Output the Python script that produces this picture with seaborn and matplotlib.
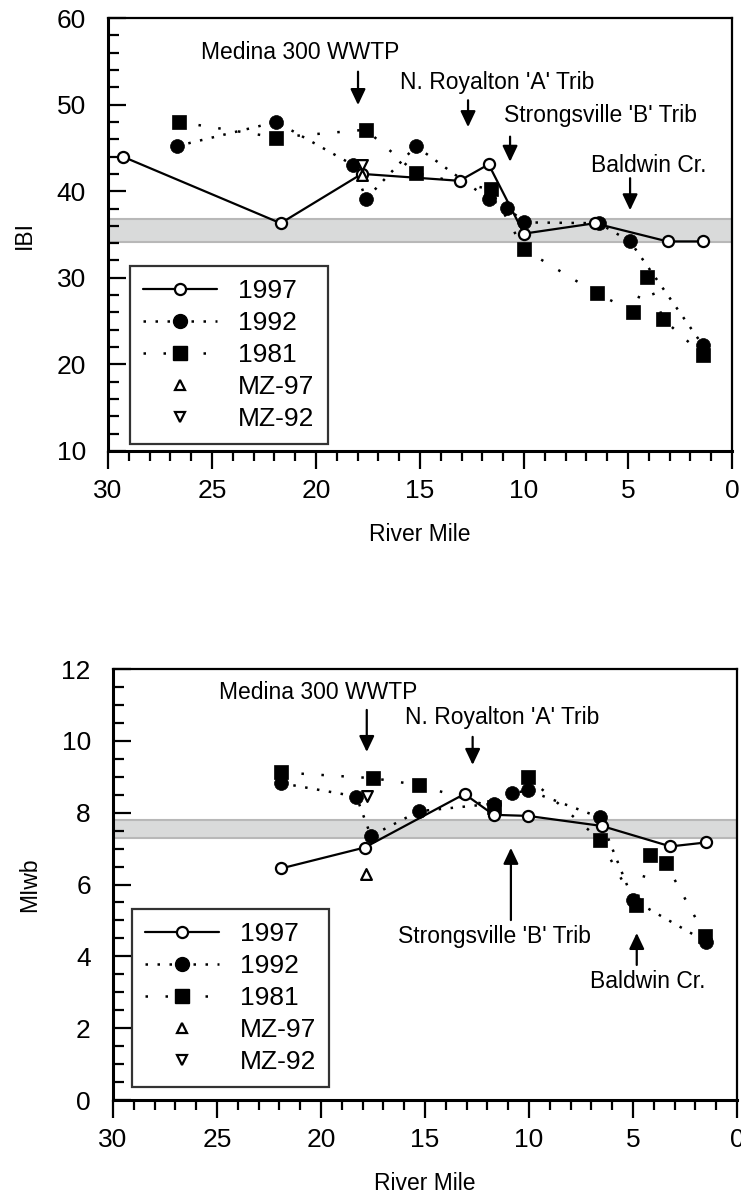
import matplotlib
matplotlib.use("Agg")
import matplotlib.pyplot as plt
from matplotlib.lines import Line2D
from matplotlib.ticker import MultipleLocator
import seaborn as sns
import numpy as np

sns.set_theme(style="ticks")
plt.rcParams['font.family'] = ['Liberation Sans', 'DejaVu Sans']
plt.rcParams.update({"text.color": "black", "axes.labelcolor": "black",
                     "xtick.color": "black", "ytick.color": "black"})

# ---------------- data: IBI (top) ----------------
ibi_rm97 = [29.3, 21.7, 17.8, 13.1, 11.7, 10.0, 6.6, 3.1, 1.4]
ibi_97 = [44.0, 36.3, 42.0, 41.2, 43.1, 35.1, 36.3, 34.2, 34.2]
ibi_rm92 = [26.7, 21.9, 18.2, 17.6, 15.2, 11.7, 10.8, 10.0, 6.4, 4.9, 1.4]
ibi_92 = [45.2, 48.0, 43.0, 39.1, 45.2, 39.1, 38.1, 36.4, 36.3, 34.2, 22.2]
ibi_rm81 = [26.6, 21.9, 17.6, 15.2, 11.6, 10.0, 6.5, 4.75, 4.1, 3.3, 1.4]
ibi_81 = [48.0, 46.2, 47.1, 42.1, 40.2, 33.3, 28.2, 26.1, 30.1, 25.2, 21.1]
ibi_mz97_rm, ibi_mz97 = [17.8], [41.9]
ibi_mz92_rm, ibi_mz92 = [17.8], [43.0]
ibi_band = (34.1, 36.8)

# ---------------- data: MIwb (bottom) ----------------
mi_rm97 = [21.9, 17.9, 13.1, 11.7, 10.05, 6.5, 3.2, 1.5]
mi_97 = [6.45, 7.03, 8.52, 7.94, 7.91, 7.63, 7.06, 7.17]
mi_rm92 = [21.9, 18.3, 17.6, 15.3, 11.7, 10.8, 10.05, 6.6, 5.0, 1.5]
mi_92 = [8.82, 8.45, 7.35, 8.04, 8.25, 8.54, 8.62, 7.87, 5.57, 4.41]
mi_rm81 = [21.9, 17.5, 15.3, 11.7, 10.05, 6.6, 4.87, 4.18, 3.43, 1.52]
mi_81 = [9.12, 8.96, 8.77, 8.15, 8.99, 7.25, 5.43, 6.82, 6.59, 4.57]
mi_mz97_rm, mi_mz97 = [17.86], [6.30]
mi_mz92_rm, mi_mz92 = [17.81], [8.47]
mi_band = (7.3, 7.8)

labels = ["1997", "1992", "1981", "MZ-97", "MZ-92"]

# annotations: (text, text_x, text_y, arrow_x, arrow_tail_y, arrow_head_y)
ibi_notes = [
    ("Medina 300 WWTP", 20.77, 55.96, 17.98, 53.8, 49.95),
    ("N. Royalton 'A' Trib", 11.3, 52.6, 12.69, 50.5, 47.4),
    ("Strongsville 'B' Trib", 6.3, 48.7, 10.67, 46.3, 43.4),
    ("Baldwin Cr.", 3.99, 43.0, 4.9, 41.5, 37.8),
]
mi_notes = [
    ("Medina 300 WWTP", 20.14, 11.34, 17.8, 10.86, 9.69),
    ("N. Royalton 'A' Trib", 11.3, 10.64, 12.71, 10.11, 9.33),
    ("Strongsville 'B' Trib", 11.66, 4.54, 10.87, 5.01, 7.02),
    ("Baldwin Cr.", 4.28, 3.29, 4.82, 3.76, 4.65),
]

W, H, DPI = 741, 1196, 100
fig = plt.figure(figsize=(W / DPI, H / DPI), dpi=DPI)
fig.patch.set_facecolor("white")

def axrect(l, r, t, b):
    return [l / W, 1 - b / H, (r - l) / W, (b - t) / H]

ax1 = fig.add_axes(axrect(108, 732, 18, 451))
ax2 = fig.add_axes(axrect(113, 737, 669, 1100))

ls92 = (0, (1, 3.8))
ls81 = (0, (1, 7))

def draw(ax, rm97, v97, rm92, v92, rm81, v81, mz97x, mz97y, mz92x, mz92y, band):
    ax.set_facecolor("white")
    ax.axhspan(band[0], band[1], facecolor="#d9dada", edgecolor="#b8b8b8", lw=1.5, zorder=0)
    sns.lineplot(x=rm92, y=v92, ax=ax, sort=False, estimator=None, color="black",
                 lw=1.8, linestyle=ls92, marker="o", markersize=10,
                 markerfacecolor="black", markeredgecolor="black", markeredgewidth=0.5, zorder=3)
    sns.lineplot(x=rm81, y=v81, ax=ax, sort=False, estimator=None, color="black",
                 lw=1.8, linestyle=ls81, marker="s", markersize=9.5,
                 markerfacecolor="black", markeredgecolor="black", markeredgewidth=0.5, zorder=4)
    sns.lineplot(x=rm97, y=v97, ax=ax, sort=False, estimator=None, color="black",
                 lw=1.6, linestyle="-", marker="o", markersize=8,
                 markerfacecolor="white", markeredgecolor="black", markeredgewidth=1.6, zorder=5)
    sns.scatterplot(x=mz97x, y=mz97y, ax=ax, marker="^", s=60, facecolor="white",
                    edgecolor="black", linewidth=1.6, zorder=6)
    sns.scatterplot(x=mz92x, y=mz92y, ax=ax, marker="v", s=60, facecolor="white",
                    edgecolor="black", linewidth=1.6, zorder=6)

def style(ax, ylim, ymaj, ymin, ylabel, notes):
    ax.set_xlim(30, 0)
    ax.set_ylim(*ylim)
    ax.xaxis.set_major_locator(MultipleLocator(5))
    ax.xaxis.set_minor_locator(MultipleLocator(1))
    ax.yaxis.set_major_locator(MultipleLocator(ymaj))
    ax.yaxis.set_minor_locator(MultipleLocator(ymin))
    ax.tick_params(axis="x", which="major", direction="out", length=13, width=1.6,
                   labelsize=19, pad=7, colors="black", bottom=True, top=False)
    ax.tick_params(axis="x", which="minor", direction="out", length=7, width=1.6,
                   bottom=True, top=False)
    ax.tick_params(axis="y", which="major", direction="in", length=13, width=1.6,
                   labelsize=19, pad=16, colors="black", left=True, right=False)
    ax.tick_params(axis="y", which="minor", direction="in", length=8, width=1.6,
                   left=True, right=False)
    for s in ax.spines.values():
        s.set_color("black")
        s.set_linewidth(1.6)
    ax.spines["left"].set_linewidth(2.2)
    ax.spines["bottom"].set_linewidth(2.2)
    ax.set_xlabel("River Mile", fontsize=16.5, color="black")
    ax.set_ylabel(ylabel, fontsize=16.5, color="black")
    ax.xaxis.set_label_coords(0.5, -0.167)
    ax.yaxis.set_label_coords(-0.115, 0.5)
    for txt, tx, ty, axx, t0, t1 in notes:
        ax.text(tx, ty, txt, ha="center", va="center", fontsize=16.5, color="black", zorder=7)
        ax.annotate("", xy=(axx, t1), xytext=(axx, t0),
                    arrowprops=dict(arrowstyle="-|>,head_length=0.8,head_width=0.38",
                                    color="black", lw=1.6, shrinkA=0, shrinkB=0), zorder=7)
    handles = [
        Line2D([], [], color="black", lw=1.6, ls="-", marker="o", markersize=8,
               markerfacecolor="white", markeredgecolor="black", markeredgewidth=1.6),
        Line2D([], [], color="black", lw=1.8, ls=ls92, marker="o", markersize=10,
               markerfacecolor="black", markeredgecolor="black"),
        Line2D([], [], color="black", lw=1.8, ls=ls81, marker="s", markersize=9.5,
               markerfacecolor="black", markeredgecolor="black"),
        Line2D([], [], color="none", marker="^", markersize=7,
               markerfacecolor="white", markeredgecolor="black", markeredgewidth=1.6),
        Line2D([], [], color="none", marker="v", markersize=7,
               markerfacecolor="white", markeredgecolor="black", markeredgewidth=1.6),
    ]
    return handles

draw(ax1, ibi_rm97, ibi_97, ibi_rm92, ibi_92, ibi_rm81, ibi_81,
     ibi_mz97_rm, ibi_mz97, ibi_mz92_rm, ibi_mz92, ibi_band)
h1 = style(ax1, (10, 60), 10, 2, "IBI", ibi_notes)
draw(ax2, mi_rm97, mi_97, mi_rm92, mi_92, mi_rm81, mi_81,
     mi_mz97_rm, mi_mz97, mi_mz92_rm, mi_mz92, mi_band)
h2 = style(ax2, (0, 12), 2, 0.5, "MIwb", mi_notes)

for ax, h, anchor in [(ax1, h1, (0.035, 0.016)), (ax2, h2, (0.030, 0.030))]:
    leg = ax.legend(h, labels, loc="lower left", bbox_to_anchor=anchor, borderaxespad=0,
                    fontsize=19, frameon=True, fancybox=False, edgecolor="black",
                    handlelength=2.8, handletextpad=0.8, labelspacing=0.3, borderpad=0.5)
    leg.get_frame().set_linewidth(1.6)
    leg.set_zorder(8)
    for t in leg.get_texts():
        t.set_color("black")

fig.savefig("out.png", dpi=DPI, facecolor="white")
